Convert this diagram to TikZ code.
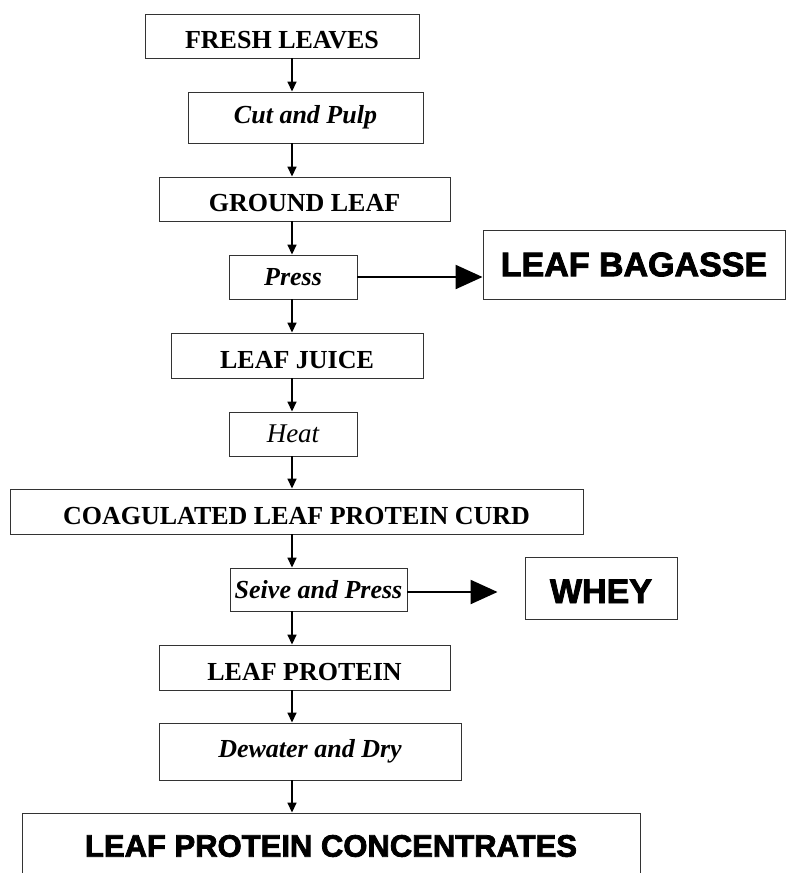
\documentclass[tikz,border=0pt]{standalone}
\usepackage{fontspec}
\setmainfont{Liberation Serif}
\newfontfamily\heavysf[FakeBold=2.5]{Liberation Sans Bold}
\usetikzlibrary{arrows.meta}
\definecolor{boxLine}{HTML}{333333}

\begin{document}
\begin{tikzpicture}[x=1pt, y=-1pt,
    stepbox/.style={draw=boxLine, line width=0.9pt, inner sep=0pt, align=center,
      text height=25pt, text depth=0pt, font=\fontsize{26}{30}\selectfont\bfseries},
    actbox/.style={draw=boxLine, line width=0.9pt, inner sep=0pt, align=center,
      font=\fontsize{26}{30}\selectfont\bfseries\itshape},
    outbox/.style={draw=boxLine, line width=0.9pt, inner sep=0pt, align=center,
      font=\fontsize{34}{38}\selectfont\heavysf},
    flow/.style={-{Triangle[length=10pt, width=9pt]}, line width=1.6pt},
    sideflow/.style={-{Triangle[length=27pt, width=24pt]}, line width=2.2pt}]
  \clip (0,0) rectangle (790,873);
  \coordinate (spine) at (292,0);

  \node[stepbox, minimum width=274pt, minimum height=44pt] (fresh) at (282,36) {FRESH LEAVES};
  \node[actbox, minimum width=235pt, minimum height=51pt] (cut) at (305.5,117.5) {Cut and Pulp};
  \node[stepbox, minimum width=291pt, minimum height=44pt] (ground) at (304.5,199) {GROUND LEAF};
  \node[actbox, minimum width=128pt, minimum height=44pt] (press) at (293,277) {Press};
  \node[outbox, minimum width=302pt, minimum height=69pt] (bagasse) at (634,264.5) {LEAF BAGASSE};
  \node[stepbox, minimum width=252pt, minimum height=45pt] (juice) at (297,355.5) {LEAF JUICE};
  \node[actbox, minimum width=128pt, minimum height=44pt,
        font=\fontsize{27}{30}\selectfont\itshape] (heat) at (293,434) {Heat};
  \node[stepbox, minimum width=573pt, minimum height=45pt] (curd) at (296.5,511.5) {COAGULATED LEAF PROTEIN CURD};
  \node[actbox, minimum width=177pt, minimum height=43pt] (seive) at (318.5,589.5) {Seive and Press};
  \node[outbox, minimum width=152pt, minimum height=62pt, text height=30pt, text depth=0pt] (whey) at (601,588) {WHEY};
  \node[stepbox, minimum width=291pt, minimum height=45pt] (protein) at (304.5,667.5) {LEAF PROTEIN};
  \node[actbox, minimum width=302pt, minimum height=57pt] (dewater) at (310,751.5) {Dewater and Dry};
  \node[outbox, minimum width=618pt, minimum height=66pt,
        font=\fontsize{31}{35}\selectfont\heavysf] (lpc) at (331,846) {LEAF PROTEIN CONCENTRATES};

  \draw[flow] (fresh.south -| spine) -- (cut.north -| spine);
  \draw[flow] (cut.south -| spine) -- (ground.north -| spine);
  \draw[flow] (ground.south -| spine) -- (press.north -| spine);
  \draw[flow] (press.south -| spine) -- (juice.north -| spine);
  \draw[flow] (juice.south -| spine) -- (heat.north -| spine);
  \draw[flow] (heat.south -| spine) -- (curd.north -| spine);
  \draw[flow] (curd.south -| spine) -- (seive.north -| spine);
  \draw[flow] (seive.south -| spine) -- (protein.north -| spine);
  \draw[flow] (protein.south -| spine) -- (dewater.north -| spine);
  \draw[flow] (dewater.south -| spine) -- (lpc.north -| spine);

  \draw[sideflow] (press.east) -- (press.east -| bagasse.west);
  \draw[sideflow, shorten >=27pt] ([yshift=-2.5pt]seive.east) -- ([yshift=-2.5pt]seive.east -| whey.west);
\end{tikzpicture}
\end{document}
